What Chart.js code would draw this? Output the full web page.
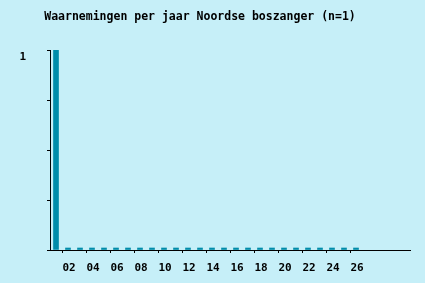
<!DOCTYPE html>
<html>
<head>
<meta charset="utf-8">
<script src="https://cdn.jsdelivr.net/npm/chart.js@4/dist/chart.umd.min.js"></script>
<style>
  html, body { margin: 0; padding: 0; background: #c6eff8; }
  #wrap { width: 425px; height: 283px; }
</style>
</head>
<body>
<div id="wrap"><canvas id="chart" width="425" height="283"></canvas></div>
<script>
// jaren op de x-as (20xx), de as loopt door tot en met 30
var years = ['01', '02', '03', '04', '05', '06', '07', '08', '09', '10',
             '11', '12', '13', '14', '15', '16', '17', '18', '19', '20',
             '21', '22', '23', '24', '25', '26', '27', '28', '29', '30'];
// aantal waarnemingen per jaar (na 26 geen gegevens)
var counts = [1, 0, 0, 0, 0, 0, 0, 0, 0, 0,
              0, 0, 0, 0, 0, 0, 0, 0, 0, 0,
              0, 0, 0, 0, 0, 0, null, null, null, null];
// labels die onder de x-as staan
var xTickLabels = ['02', '04', '06', '08', '10', '12', '14', '16', '18', '20', '22', '24', '26'];
var yTickLabels = ['1'];

var titleText = 'Waarnemingen per jaar Noordse boszanger (n=1)';

var titlePlugin = {
    id: 'monoTitle',
    afterDraw: function (chart) {
        var ctx = chart.ctx;
        ctx.save();
        ctx.font = 'bold 11.5px "DejaVu Sans Mono"';
        ctx.fillStyle = '#000';
        ctx.textAlign = 'center';
        ctx.textBaseline = 'middle';
        ctx.fillText(titleText, 200, 17);
        ctx.restore();
    }
};

var ctx = document.getElementById('chart');
var myChart = new Chart(ctx, {
    type: 'bar',
    data: {
        labels: years,
        datasets: [{
            data: counts,
            backgroundColor: '#008caa',
            borderWidth: 0,
            barThickness: 5,
            minBarLength: 2
        }]
    },
    options: {
        responsive: false,
        animation: false,
        layout: { padding: { left: 0, top: 50, right: 15, bottom: 0 } },
        plugins: {
            legend: { display: false },
            tooltip: { enabled: false }
        },
        scales: {
            x: {
                offset: true,
                border: { color: '#000', width: 1 },
                grid: {
                    drawOnChartArea: false,
                    tickLength: 3,
                    tickColor: function (c) {
                        return c.tick && c.tick.label ? '#000' : 'rgba(0,0,0,0)';
                    }
                },
                ticks: {
                    autoSkip: false,
                    maxRotation: 0,
                    padding: 9,
                    labelOffset: 1,
                    color: '#000',
                    font: { family: 'DejaVu Sans Mono', size: 11, weight: 'bold' },
                    callback: function (value, index) {
                        var l = years[index];
                        return xTickLabels.indexOf(l) >= 0 ? l : '';
                    }
                },
                afterFit: function (scale) { scale.height = 33; }
            },
            y: {
                min: 0,
                max: 1,
                border: { color: '#000', width: 1 },
                grid: {
                    drawOnChartArea: false,
                    tickLength: 3,
                    tickColor: '#000'
                },
                ticks: {
                    stepSize: 0.25,
                    padding: 21,
                    labelOffset: 7,
                    color: '#000',
                    font: { family: 'DejaVu Sans Mono', size: 11, weight: 'bold' },
                    callback: function (value) {
                        var s = String(value);
                        return yTickLabels.indexOf(s) >= 0 ? s : '';
                    }
                },
                afterFit: function (scale) { scale.width = 50; }
            }
        }
    },
    plugins: [titlePlugin]
});
</script>
</body>
</html>
